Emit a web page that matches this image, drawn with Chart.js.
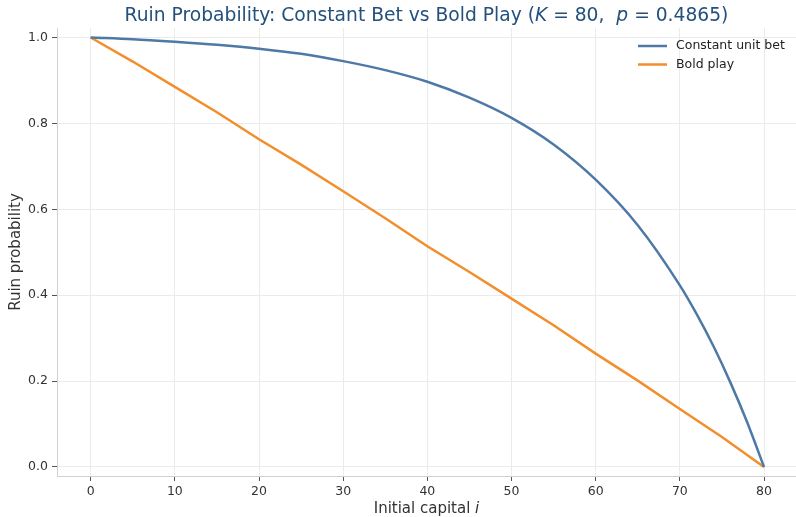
<!DOCTYPE html>
<html>
<head>
<meta charset="utf-8">
<script src="https://cdn.jsdelivr.net/npm/chart.js@4/dist/chart.umd.min.js"></script>
<style>
  html, body { margin: 0; padding: 0; background: #ffffff; }
  canvas { display: block; }
</style>
</head>
<body>
<canvas id="c" width="796" height="517"></canvas>
<script>
// Initial capital values and ruin probabilities for the two strategies
const constCapital = [0, 5, 10, 15, 20, 25, 30, 35, 40, 45, 50, 55, 60, 65, 70, 72, 74, 76, 78, 80];
const constRuin    = [1.000, 0.996, 0.990, 0.983, 0.974, 0.962, 0.945, 0.924, 0.897, 0.860, 0.813, 0.751, 0.669, 0.563, 0.423, 0.356, 0.281, 0.197, 0.104, 0.000];

const boldCapital = [0, 5, 10, 15, 20, 25, 30, 35, 40, 45, 50, 55, 60, 65, 70, 75, 80];
const boldRuin    = [1.000, 0.944, 0.885, 0.826, 0.763, 0.704, 0.642, 0.579, 0.514, 0.454, 0.392, 0.330, 0.264, 0.201, 0.135, 0.070, 0.000];

const xTicks = [0, 10, 20, 30, 40, 50, 60, 70, 80];
const yTicks = [0.0, 0.2, 0.4, 0.6, 0.8, 1.0];

const seriesNames = ['Constant unit bet', 'Bold play'];
const seriesColors = ['#4e79a7', '#f28e2b'];

const FONT = "'DejaVu Sans', sans-serif";

const toPoints = (xs, ys) => xs.map((x, i) => ({ x: x, y: ys[i] }));

// Title, axis labels and legend drawn on top of the chart
const decorations = {
  id: 'decorations',
  afterDraw(chart) {
    const ctx = chart.ctx;
    const area = chart.chartArea;
    ctx.save();

    // Title with italic math symbols
    const runs = [
      ['Ruin Probability: Constant Bet vs Bold Play (', false],
      ['K', true],
      [' = 80,  ', false],
      ['p', true],
      [' = 0.4865)', false]
    ];
    const tSize = 18.7;
    let total = 0;
    runs.forEach(r => {
      ctx.font = (r[1] ? 'italic ' : '') + tSize + 'px ' + FONT;
      total += ctx.measureText(r[0]).width;
    });
    let tx = (area.left + area.right) / 2 - total / 2;
    ctx.fillStyle = '#24507e';
    ctx.textBaseline = 'alphabetic';
    ctx.textAlign = 'left';
    runs.forEach(r => {
      ctx.font = (r[1] ? 'italic ' : '') + tSize + 'px ' + FONT;
      ctx.fillText(r[0], tx, 21);
      tx += ctx.measureText(r[0]).width;
    });

    // X axis label
    ctx.fillStyle = '#333333';
    const xl1 = 'Initial capital ';
    const xl2 = 'i';
    ctx.font = '15px ' + FONT;
    const w1 = ctx.measureText(xl1).width;
    ctx.font = 'italic 15px ' + FONT;
    const w2 = ctx.measureText(xl2).width;
    let lx = (area.left + area.right) / 2 - (w1 + w2) / 2;
    ctx.textBaseline = 'middle';
    ctx.font = '15px ' + FONT;
    ctx.fillText(xl1, lx, 509);
    ctx.font = 'italic 15px ' + FONT;
    ctx.fillText(xl2, lx + w1, 509);

    // Y axis label
    ctx.save();
    ctx.translate(16, (area.top + area.bottom) / 2);
    ctx.rotate(-Math.PI / 2);
    ctx.textAlign = 'center';
    ctx.font = '15px ' + FONT;
    ctx.fillText('Ruin probability', 0, 0);
    ctx.restore();

    // Legend
    ctx.font = '12.5px ' + FONT;
    ctx.textAlign = 'left';
    ctx.textBaseline = 'middle';
    chart.data.datasets.forEach((ds, i) => {
      const y = 46 + i * 18.5;
      ctx.strokeStyle = ds.borderColor;
      ctx.lineWidth = 2.5;
      ctx.beginPath();
      ctx.moveTo(638, y);
      ctx.lineTo(667, y);
      ctx.stroke();
      ctx.fillStyle = '#222222';
      ctx.fillText(ds.label, 676, y);
    });

    ctx.restore();
  }
};

new Chart(document.getElementById('c'), {
  type: 'line',
  data: {
    datasets: [
      {
        label: seriesNames[0],
        data: toPoints(constCapital, constRuin),
        borderColor: seriesColors[0],
        borderWidth: 2.5,
        pointRadius: 0,
        cubicInterpolationMode: 'monotone',
        fill: false
      },
      {
        label: seriesNames[1],
        data: toPoints(boldCapital, boldRuin),
        borderColor: seriesColors[1],
        borderWidth: 2.5,
        pointRadius: 0,
        tension: 0,
        fill: false
      }
    ]
  },
  options: {
    responsive: false,
    animation: false,
    devicePixelRatio: 1,
    layout: { padding: { top: 28, left: 0, right: 0, bottom: 0 } },
    plugins: {
      legend: { display: false },
      title: { display: false },
      tooltip: { enabled: false }
    },
    scales: {
      x: {
        type: 'linear',
        min: -4,
        max: 83.8,
        afterFit(scale) { scale.height = 41; },
        afterBuildTicks(scale) { scale.ticks = xTicks.map(v => ({ value: v })); },
        grid: { color: '#ebebeb', lineWidth: 1, tickLength: 5, tickColor: '#555555' },
        border: { color: '#d0d0da', width: 1 },
        ticks: {
          padding: 3,
          color: '#333333',
          font: { family: FONT, size: 12.5 },
          callback: v => String(v)
        }
      },
      y: {
        type: 'linear',
        min: -0.021,
        max: 1.0221,
        afterFit(scale) { scale.width = 57; },
        afterBuildTicks(scale) { scale.ticks = yTicks.map(v => ({ value: v })); },
        grid: { color: '#ebebeb', lineWidth: 1, tickLength: 5, tickColor: '#555555' },
        border: { color: '#d0d0da', width: 1 },
        ticks: {
          padding: 4,
          color: '#333333',
          font: { family: FONT, size: 12.5 },
          callback: v => v.toFixed(1)
        }
      }
    }
  },
  plugins: [decorations]
});
</script>
</body>
</html>
